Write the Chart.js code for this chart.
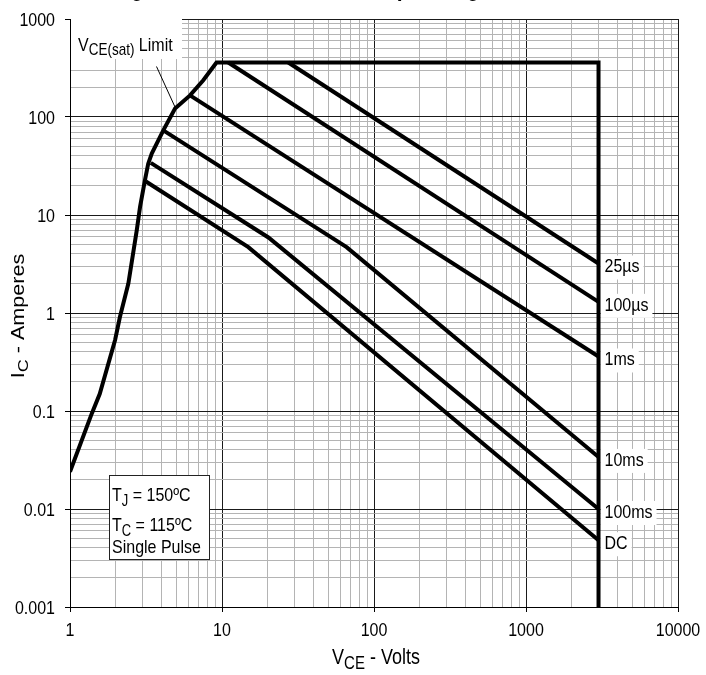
<!DOCTYPE html>
<html>
<head>
<meta charset="utf-8">
<script src="https://cdn.jsdelivr.net/npm/chart.js@4"></script>
<style>
    html, body { margin: 0; padding: 0; background: #fff; }
    #wrapper { width: 706px; height: 675px; }
</style>
</head>
<body>
<div id="wrapper"><canvas id="soa-graph"></canvas></div>
<script>
// Axis decades
const xTickLabels = ["1", "10", "100", "1000", "10000"];
const yTickLabels = ["0.001", "0.01", "0.1", "1", "10", "100", "1000"];

// VCE(sat) limit, then the 360 A line and the 3000 V line
const limitVolts = [1, 1.39, 1.57, 1.98, 2.13, 2.42, 2.75, 2.89, 3.11, 3.27, 3.45, 4.11, 4.91, 6.16, 7.53, 9.2, 3000, 3000];
const limitAmps = [0.024, 0.094, 0.15, 0.53, 0.91, 2.0, 7.0, 12.1, 22.6, 33.4, 42.4, 73, 122, 166, 237, 360, 360, 0.001];

// Pulse lines (volts / amperes)
const pulse25usVolts = [27.3, 3000];
const pulse25usAmps = [360, 3.2];
const pulse100usVolts = [11, 3000];
const pulse100usAmps = [360, 1.3];
const pulse1msVolts = [6.16, 3000];
const pulse1msAmps = [166, 0.36];
const pulse10msVolts = [4.11, 66, 3000];
const pulse10msAmps = [73, 4.7, 0.034];
const pulse100msVolts = [3.4, 20.2, 3000];
const pulse100msAmps = [34, 5.9, 0.01];
const dcVolts = [3.16, 14.9, 3000];
const dcAmps = [22, 4.7, 0.0048];

const pulseLabels = ["25µs", "100µs", "1ms", "10ms", "100ms", "DC"];

const FONT = "'Liberation Sans', Arial, sans-serif";
const SY = 1.2; // text in the picture is a bit taller than wide

function pairs(xs, ys) {
    return xs.map((x, i) => ({ x: x, y: ys[i] }));
}

function isDecade(v) {
    const l = Math.log10(v);
    return Math.abs(l - Math.round(l)) < 1e-9;
}

// 1..9 steps in every decade between the tick labels
function gridValues(labels) {
    const decades = labels.map(Number);
    const out = [];
    decades.forEach((d, i) => {
        out.push(d);
        if (i < decades.length - 1) {
            for (let k = 2; k <= 9; k++) out.push(d * k);
        }
    });
    return out;
}

// parts: [text, size, dy, bold]
function richText(ctx, x, y, parts, align, rotate) {
    const fnt = (p) => (p[3] ? "bold " : "") + p[1] + "px " + FONT;
    let w = 0;
    parts.forEach((p) => {
        ctx.font = fnt(p);
        w += ctx.measureText(p[0]).width;
    });
    ctx.save();
    ctx.translate(x, y);
    ctx.scale(1, SY);
    if (rotate) ctx.rotate(-Math.PI / 2);
    ctx.fillStyle = "#000";
    ctx.textAlign = "left";
    ctx.textBaseline = "alphabetic";
    let cx = align === "center" ? -w / 2 : align === "right" ? -w : 0;
    parts.forEach((p) => {
        ctx.font = fnt(p);
        ctx.fillText(p[0], cx, p[2] || 0);
        cx += ctx.measureText(p[0]).width;
    });
    ctx.restore();
    return w;
}

const pulseSeries = [
    [pulse25usVolts, pulse25usAmps],
    [pulse100usVolts, pulse100usAmps],
    [pulse1msVolts, pulse1msAmps],
    [pulse10msVolts, pulse10msAmps],
    [pulse100msVolts, pulse100msAmps],
    [dcVolts, dcAmps],
];

const lineStyle = {
    showLine: true,
    pointRadius: 0,
    borderColor: "#000",
    borderWidth: 4,
    fill: false,
};

const datasets = [{ label: "VCE(sat) Limit", data: pairs(limitVolts, limitAmps), ...lineStyle }];
pulseSeries.forEach((s, i) => {
    datasets.push({ label: pulseLabels[i], data: pairs(s[0], s[1]), ...lineStyle });
});

// white boxes and labels inside the plot
const annotations = {
    id: "annotations",
    beforeDatasetsDraw(chart) {
        const ctx = chart.ctx;
        const xs = chart.scales.x;
        const ys = chart.scales.y;
        ctx.save();
        ctx.fillStyle = "#fff";
        ctx.fillRect(71, 19, 111, 40);

        // pulse labels at the 3000 V line
        const xEnd = xs.getPixelForValue(3000);
        pulseSeries.forEach((s, i) => {
            const yEnd = ys.getPixelForValue(s[1][s[1].length - 1]);
            ctx.font = "16px " + FONT;
            const w = ctx.measureText(pulseLabels[i]).width;
            ctx.fillStyle = "#fff";
            ctx.fillRect(xEnd + 2, yEnd - 8, w + 8, 24);
            richText(ctx, xEnd + 6, yEnd + 9, [[pulseLabels[i], 16]], "left");
        });

        // conditions box
        ctx.fillStyle = "#fff";
        ctx.fillRect(109.5, 475.5, 100, 84);
        ctx.strokeStyle = "#222";
        ctx.lineWidth = 1;
        ctx.strokeRect(109.5, 475.5, 100, 84);
        richText(ctx, 112, 501, [["T", 16], ["J", 13, 4], [" = 150ºC", 16]], "left");
        richText(ctx, 112, 531, [["T", 16], ["C", 13, 4], [" = 115ºC", 16]], "left");
        richText(ctx, 112, 553, [["Single Pulse", 16]], "left");

        // VCE(sat) limit note and leader
        richText(ctx, 78, 51, [["V", 16], ["CE(sat)", 13.5, 3], [" Limit", 16]], "left");
        ctx.beginPath();
        ctx.moveTo(156.5, 66.5);
        ctx.lineTo(175, 107);
        ctx.strokeStyle = "#000";
        ctx.stroke();
        ctx.restore();
    },
    afterDraw(chart) {
        const ctx = chart.ctx;
        const xs = chart.scales.x;
        const ys = chart.scales.y;
        xTickLabels.forEach((t) => {
            richText(ctx, xs.getPixelForValue(Number(t)), 636, [[t, 16]], "center");
        });
        yTickLabels.forEach((t) => {
            richText(ctx, 55, ys.getPixelForValue(Number(t)) + 7, [[t, 16]], "right");
        });
        richText(ctx, 376, 664, [["V", 18], ["CE", 15, 4], [" - Volts", 18]], "center");
        richText(ctx, 24, 316, [["I", 18], ["C", 15, 4], [" - Amperes", 18]], "center", true);
        // chart title, mostly above the top edge of the picture
        richText(ctx, 112, -4.5, [["Fig. 13. Forward-Bias Safe Operating Area @ T", 21, 0, true], ["J", 16, 4, true], [" = 150ºC", 21, 0, true]], "left");
    },
};

const gridStyle = {
    color: (c) => (c.tick && isDecade(c.tick.value) ? "#1a1a1a" : "#b4b4b4"),
    tickColor: (c) => (c.tick && isDecade(c.tick.value) ? "#000" : "rgba(0,0,0,0)"),
    lineWidth: 1,
    tickLength: 5,
    drawTicks: true,
};

const ctx = document.getElementById("soa-graph").getContext("2d");
const soaChart = new Chart(ctx, {
    type: "scatter",
    data: { datasets: datasets },
    options: {
        responsive: true,
        maintainAspectRatio: false,
        animation: false,
        devicePixelRatio: 1,
        layout: { padding: { top: 19, right: 28, left: 0, bottom: 0 } },
        plugins: {
            legend: { display: false },
            tooltip: { enabled: false },
            title: { display: false },
        },
        scales: {
            x: {
                type: "logarithmic",
                min: 1,
                max: 10000,
                afterBuildTicks: (scale) => {
                    scale.ticks = gridValues(xTickLabels).map((v) => ({ value: v }));
                },
                afterFit: (scale) => {
                    scale.height = 68;
                },
                ticks: { display: false },
                grid: gridStyle,
                border: { color: "#000", width: 1 },
            },
            y: {
                type: "logarithmic",
                min: 0.001,
                max: 1000,
                afterBuildTicks: (scale) => {
                    scale.ticks = gridValues(yTickLabels).map((v) => ({ value: v }));
                },
                afterFit: (scale) => {
                    scale.width = 70;
                },
                ticks: { display: false },
                grid: gridStyle,
                border: { color: "#000", width: 1 },
            },
        },
    },
    plugins: [annotations],
});
</script>
</body>
</html>
